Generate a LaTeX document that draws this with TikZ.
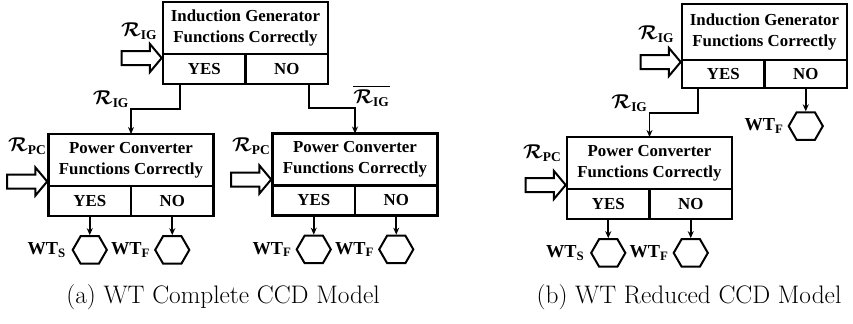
\documentclass[tikz,border=0pt]{standalone}
\usepackage{amsmath,amssymb}
\usepackage{fontspec}
\newfontfamily\tnr{Liberation Serif}
\usepackage{tikz}
\usetikzlibrary{arrows.meta,calc,positioning,shapes.arrows,shapes.symbols}
\newcommand{\Rig}{\boldsymbol{\mathcal{R}}_{\textbf{IG}}}
\newcommand{\Rpc}{\boldsymbol{\mathcal{R}}_{\textbf{PC}}}

\begin{document}
\begin{tikzpicture}[
  x=0.6pt, y=-0.6pt,
  hbox/.style = {draw=black, line width=1.4pt, minimum width=99pt,
                 minimum height=31.2pt, align=center, inner sep=0pt,
                 outer sep=0pt,
                 font=\fontsize{10.1}{12.6}\selectfont\tnr\bfseries},
  cbox/.style = {draw=black, line width=1.4pt, minimum width=49.5pt,
                 minimum height=18pt, inner sep=0pt, outer sep=0pt,
                 font=\fontsize{10.1}{12.6}\selectfont\tnr\bfseries},
  harr/.style = {single arrow, draw=black, line width=1.2pt,
                 minimum height=24pt, inner xsep=0pt, inner ysep=3.6pt,
                 single arrow head extend=4.2pt, single arrow tip angle=100},
  hexa/.style = {signal, signal to=east and west, signal pointer angle=120,
                 draw=black, line width=1.2pt, minimum width=20.5pt,
                 minimum height=16.5pt, inner sep=0pt},
  lbl/.style  = {inner sep=0.5pt, font=\fontsize{11.5}{13}\selectfont\tnr},
  wlbl/.style = {inner sep=0pt, font=\fontsize{11}{12}\selectfont\tnr\bfseries},
  captxt/.style = {inner sep=0pt, font=\fontsize{15.2}{18}\selectfont},
  arr/.style  = {-{Stealth[length=4.2pt,width=3.6pt]}, line width=1.1pt},
]
\useasboundingbox (0,0) rectangle (853,323);

% (a) complete model
\node[hbox] (ig) at (245.5,28) {Induction Generator\\Functions Correctly};
\node[cbox, anchor=north west] (igy) at (ig.south west) {YES};
\node[cbox, anchor=north east] (ign) at (ig.south east) {NO};
\node[harr, anchor=tip] (iga) at ($(ig.south west)+(0,4)$) {};
\node[lbl, anchor=south west] (igl) at (120,41) {$\Rig$};

\node[hbox] (pca) at (131,160) {Power Converter\\Functions Correctly};
\node[cbox, anchor=north west] (pcay) at (pca.south west) {YES};
\node[cbox, anchor=north east] (pcan) at (pca.south east) {NO};
\node[harr, anchor=tip] (pcaa) at ($(pca.south west)+(0,-4.5)$) {};
\node[lbl, anchor=south west] (pcal) at (7,156) {$\Rpc$};

\node[hbox] (pcb) at (355,159.5) {Power Converter\\Functions Correctly};
\node[cbox, anchor=north west] (pcby) at (pcb.south west) {YES};
\node[cbox, anchor=north east] (pcbn) at (pcb.south east) {NO};
\node[harr, anchor=tip] (pcba) at ($(pcb.south west)+(0,-6)$) {};
\node[lbl, anchor=south west] (pcbl) at (231,156) {$\Rpc$};

\draw[arr] ($(igy.south)+(-24,0)$) -- ++(0,25)
  -| node[lbl, anchor=south east]{$\Rig$} (pca.north);
\draw[arr] ($(ign.south)+(22,0)$) -- ++(0,24)
  -| node[lbl, anchor=south west, xshift=-2pt]{$\overline{\Rig}$} (pcb.north);

\node[hexa, below=11.5pt of pcay] (wa1) {};
\node[hexa, below=11.5pt of pcan] (wa2) {};
\node[hexa, below=11.5pt of pcby] (wa3) {};
\node[hexa, below=11.5pt of pcbn] (wa4) {};
\node[wlbl, left=3pt of wa1] {WT\textsubscript{S}};
\node[wlbl, left=2pt of wa2] {WT\textsubscript{F}};
\node[wlbl, left=2pt of wa3] {WT\textsubscript{F}};
\node[wlbl, left=2pt of wa4] {WT\textsubscript{F}};
\draw[arr] (pcay) -- (wa1);
\draw[arr] (pcan) -- (wa2);
\draw[arr] (pcby) -- (wa3);
\draw[arr] (pcbn) -- (wa4);

% (b) reduced model
\node[hbox, minimum height=33.6pt] (rig) at (764.5,32) {Induction Generator\\Functions Correctly};
\node[cbox, minimum height=16.8pt, anchor=north west] (rigy) at (rig.south west) {YES};
\node[cbox, minimum height=16.8pt, anchor=north east] (rign) at (rig.south east) {NO};
\node[harr, anchor=tip] (riga) at ($(rig.south west)+(0,2)$) {};
\node[lbl, anchor=south west] (rigl) at (637,44) {$\Rig$};

\node[hbox] (rpc) at (649.5,163) {Power Converter\\Functions Correctly};
\node[cbox, anchor=north west] (rpcy) at (rpc.south west) {YES};
\node[cbox, anchor=north east] (rpcn) at (rpc.south east) {NO};
\node[harr, anchor=tip] (rpca) at ($(rpc.south west)+(0,-4)$) {};
\node[lbl, anchor=south west] (rpcl) at (522,163) {$\Rpc$};

\draw[arr] ($(rigy.south)+(-25,0)$) -- ++(0,25)
  -| node[lbl, anchor=south east]{$\Rig$} (rpc.north);

\node[hexa, below=14pt of rign] (wb1) {};
\node[hexa, below=11.5pt of rpcy] (wb2) {};
\node[hexa, below=11.5pt of rpcn] (wb3) {};
\node[wlbl, left=2pt of wb1] {WT\textsubscript{F}};
\node[wlbl, left=3pt of wb2] {WT\textsubscript{S}};
\node[wlbl, left=2pt of wb3] {WT\textsubscript{F}};
\draw[arr] (rign) -- (wb1);
\draw[arr] (rpcy) -- (wb2);
\draw[arr] (rpcn) -- (wb3);

\node[captxt] (capa) at (223,297) {(a) WT Complete CCD Model};
\node[captxt] (capb) at (689,297) {(b) WT Reduced CCD Model};
\end{tikzpicture}
\end{document}
